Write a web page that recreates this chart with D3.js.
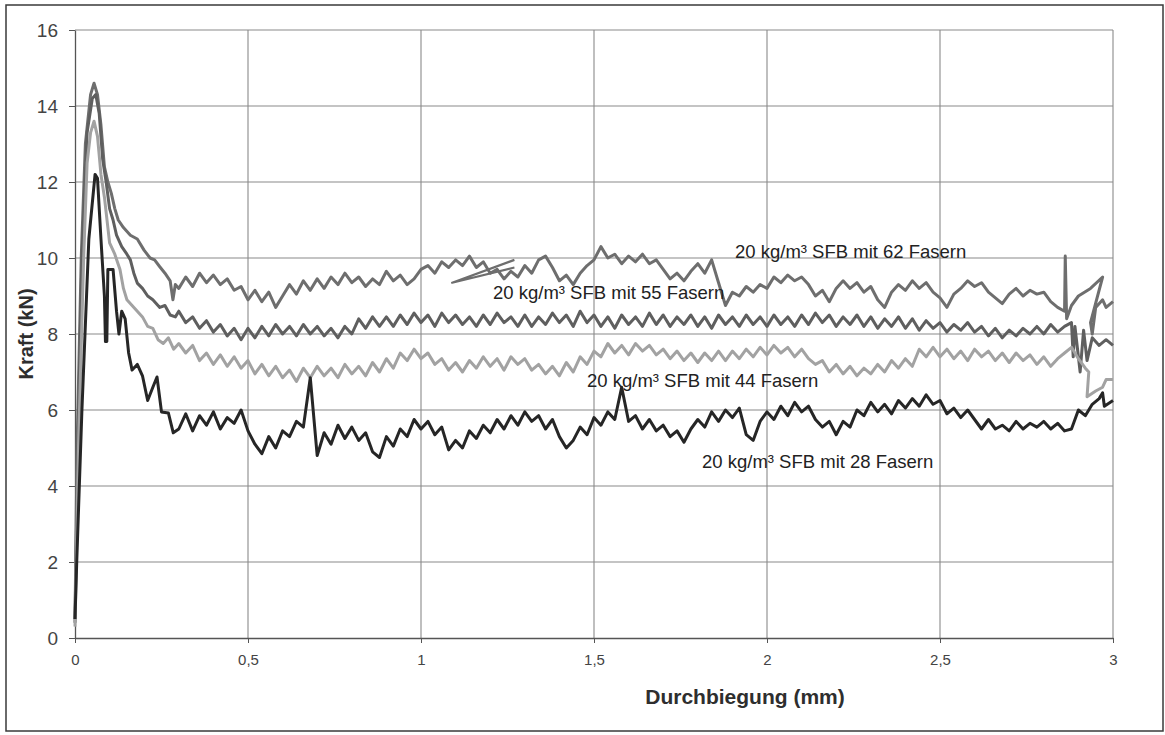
<!DOCTYPE html>
<html><head><meta charset="utf-8">
<script src="https://cdn.jsdelivr.net/npm/d3@7"></script>
<style>
html,body{margin:0;padding:0;background:#fff;}
svg{display:block;font-family:"Liberation Sans",Arial,Helvetica,sans-serif;}
</style></head>
<body>
<svg id="chart" width="1165" height="735"></svg>
<script>
// ---------- data ----------
const xTicks = [0, 0.5, 1, 1.5, 2, 2.5, 3];
const yTicks = [0, 2, 4, 6, 8, 10, 12, 14, 16];
const xTitle = "Durchbiegung (mm)";
const yTitle = "Kraft (kN)";
const seriesNames = ["20 kg/m³ SFB mit 62 Fasern", "20 kg/m³ SFB mit 55 Fasern",
                     "20 kg/m³ SFB mit 44 Fasern", "20 kg/m³ SFB mit 28 Fasern"];

// common sampling positions of the deflection (mm) for the post-peak plateau
const deflection = [
 0.30,0.32,0.34,0.36,0.38,0.40,0.42,0.44,0.46,0.48,
 0.50,0.52,0.54,0.56,0.58,0.60,0.62,0.64,0.66,0.68,
 0.70,0.72,0.74,0.76,0.78,0.80,0.82,0.84,0.86,0.88,
 0.90,0.92,0.94,0.96,0.98,1.00,1.02,1.04,1.06,1.08,
 1.10,1.12,1.14,1.16,1.18,1.20,1.22,1.24,1.26,1.28,
 1.30,1.32,1.34,1.36,1.38,1.40,1.42,1.44,1.46,1.48,
 1.50,1.52,1.54,1.56,1.58,1.60,1.62,1.64,1.66,1.68,
 1.70,1.72,1.74,1.76,1.78,1.80,1.82,1.84,1.86,1.88,
 1.90,1.92,1.94,1.96,1.98,2.00,2.02,2.04,2.06,2.08,
 2.10,2.12,2.14,2.16,2.18,2.20,2.22,2.24,2.26,2.28,
 2.30,2.32,2.34,2.36,2.38,2.40,2.42,2.44,2.46,2.48,
 2.50,2.52,2.54,2.56,2.58,2.60,2.62,2.64,2.66,2.68,
 2.70,2.72,2.74,2.76,2.78,2.80,2.82,2.84,2.86];

// ---- 62 Fasern ----
const head62 = [[0,0.5],[0.006,5],[0.018,10],[0.03,13.0],[0.045,14.3],[0.055,14.6],[0.065,14.3],[0.075,13.5],
 [0.085,12.4],[0.095,12.0],[0.105,11.7],[0.115,11.3],[0.125,11.0],[0.14,10.8],[0.16,10.6],[0.18,10.5],
 [0.2,10.2],[0.217,10.0],[0.23,9.95],[0.245,9.77],[0.26,9.6],[0.275,9.4],[0.283,8.9],[0.29,9.3]];
const force62 = [
 9.2,9.5,9.25,9.6,9.35,9.55,9.3,9.45,9.15,9.25,
 8.9,9.15,8.85,9.1,8.7,9.0,9.3,9.05,9.4,9.15,
 9.45,9.2,9.5,9.3,9.6,9.35,9.5,9.25,9.45,9.3,
 9.65,9.4,9.55,9.3,9.45,9.7,9.8,9.6,9.9,9.75,
 9.95,9.8,10.05,9.75,9.9,9.6,9.7,9.45,9.65,9.5,
 9.8,9.6,9.95,10.05,9.75,9.4,9.55,9.3,9.6,9.8,
 9.95,10.3,10.0,10.1,9.85,10.05,9.9,10.1,9.85,9.95,
 9.7,9.45,9.6,9.4,9.65,9.85,9.6,9.95,9.35,8.75,
 9.1,9.0,9.25,9.1,9.3,9.2,9.5,9.35,9.55,9.4,
 9.5,9.3,9.0,9.15,8.85,9.2,9.4,9.2,9.35,9.1,
 9.25,8.9,8.7,9.1,9.3,9.15,9.4,9.2,9.35,9.1,
 8.95,8.7,9.05,9.2,9.4,9.25,9.35,9.1,8.95,8.8,
 9.05,9.2,9.0,9.15,9.05,9.1,8.85,8.7,8.6];
const tail62 = [[2.862,10.05],[2.866,8.4],[2.88,8.75],[2.90,9.0],[2.935,9.2],[2.97,9.5],[2.935,8.3],
 [2.94,8.0],[2.95,8.7],[2.97,8.9],[2.98,8.7],[3.0,8.85]];
const loop62 = [[1.27,9.75],[1.09,9.35],[1.27,9.95]];

// ---- 55 Fasern ----
const head55 = [[0,0.4],[0.008,5],[0.02,10],[0.035,13.3],[0.05,14.2],[0.06,14.3],[0.07,13.8],[0.08,12.6],
 [0.09,12.0],[0.10,11.3],[0.11,11.0],[0.12,10.6],[0.135,10.3],[0.15,10.1],[0.16,9.95],[0.17,9.6],
 [0.18,9.34],[0.195,9.2],[0.21,9.0],[0.225,8.9],[0.245,8.7],[0.26,8.75],[0.275,8.5],[0.29,8.45]];
const force55 = [
 8.6,8.3,8.45,8.15,8.35,8.05,8.25,7.95,8.15,7.85,
 8.15,7.9,8.2,7.95,8.25,8.0,8.2,7.95,8.25,8.0,
 8.2,7.95,8.15,7.9,8.2,8.0,8.4,8.15,8.45,8.2,
 8.45,8.2,8.5,8.25,8.55,8.3,8.5,8.2,8.55,8.3,
 8.5,8.25,8.45,8.2,8.5,8.25,8.55,8.3,8.45,8.2,
 8.5,8.2,8.45,8.25,8.55,8.3,8.5,8.2,8.6,8.3,
 8.5,8.2,8.45,8.15,8.5,8.25,8.45,8.2,8.55,8.25,
 8.5,8.2,8.45,8.25,8.5,8.2,8.45,8.15,8.5,8.25,
 8.45,8.2,8.5,8.25,8.45,8.2,8.5,8.25,8.45,8.2,
 8.5,8.25,8.55,8.3,8.5,8.2,8.45,8.25,8.5,8.2,
 8.45,8.15,8.4,8.2,8.45,8.15,8.4,8.1,8.35,8.15,
 8.3,8.05,8.25,8.1,8.3,8.05,8.2,7.95,8.15,7.9,
 8.1,7.95,8.15,8.0,8.2,8.0,8.25,8.05,8.2];
const tail55 = [[2.88,8.3],[2.885,7.4],[2.89,8.2],[2.905,7.0],[2.915,8.1],[2.925,7.3],[2.94,7.9],
 [2.96,7.7],[2.98,7.85],[3.0,7.7]];

// ---- 44 Fasern ----
const head44 = [[0,0.3],[0.01,5],[0.025,10],[0.035,12.5],[0.045,13.3],[0.055,13.6],[0.065,13.2],[0.075,12.2],
 [0.085,11.6],[0.095,10.8],[0.10,10.4],[0.115,10.1],[0.13,9.7],[0.14,9.2],[0.15,8.9],[0.165,8.75],
 [0.18,8.6],[0.195,8.45],[0.21,8.2],[0.225,8.15],[0.24,7.85],[0.255,7.75],[0.27,7.9],[0.285,7.6]];
const force44 = [
 7.75,7.5,7.7,7.3,7.5,7.2,7.45,7.15,7.4,7.1,
 7.3,6.95,7.2,6.9,7.15,6.85,7.05,6.75,7.1,6.85,
 7.15,6.9,7.1,6.85,7.2,6.95,7.15,6.9,7.25,7.0,
 7.35,7.1,7.5,7.3,7.6,7.35,7.5,7.2,7.35,7.05,
 7.25,7.0,7.3,7.1,7.4,7.15,7.35,7.05,7.4,7.2,
 7.35,7.05,7.2,6.95,7.15,6.9,7.25,7.0,7.4,7.2,
 7.55,7.4,7.75,7.5,7.7,7.45,7.75,7.55,7.7,7.45,
 7.6,7.35,7.55,7.3,7.5,7.25,7.5,7.3,7.55,7.3,
 7.55,7.35,7.6,7.4,7.65,7.45,7.7,7.5,7.65,7.4,
 7.6,7.35,7.2,7.3,7.0,7.2,6.95,7.15,6.9,7.1,
 6.95,7.2,7.0,7.3,7.1,7.35,7.15,7.6,7.4,7.65,
 7.4,7.6,7.35,7.55,7.3,7.6,7.4,7.55,7.3,7.5,
 7.25,7.5,7.3,7.45,7.2,7.4,7.15,7.35,7.5];
const tail44 = [[2.88,7.65],[2.90,7.35],[2.92,7.1],[2.93,7.0],[2.925,6.35],[2.95,6.5],[2.97,6.6],
 [2.98,6.8],[3.0,6.8]];

// ---- 28 Fasern ----
const head28 = [[0,0.5],[0.005,2],[0.02,6],[0.04,10.5],[0.058,12.2],[0.065,12.1],[0.075,10.5],[0.085,9.0],
 [0.088,7.8],[0.092,7.8],[0.095,9.7],[0.11,9.7],[0.12,8.6],[0.127,8.0],[0.135,8.6],[0.145,8.4],
 [0.155,7.5],[0.165,7.05],[0.18,7.2],[0.195,6.9],[0.21,6.25],[0.225,6.6],[0.237,6.87],[0.25,5.95],
 [0.27,5.92],[0.284,5.4]];
const force28 = [
 5.5,5.9,5.45,5.85,5.6,5.95,5.5,5.8,5.65,6.0,
 5.45,5.1,4.85,5.3,5.0,5.45,5.3,5.7,5.55,6.85,
 4.8,5.4,5.1,5.6,5.25,5.55,5.2,5.4,4.9,4.75,
 5.3,5.05,5.5,5.3,5.75,5.5,5.7,5.35,5.55,4.95,
 5.2,5.0,5.45,5.25,5.6,5.4,5.75,5.5,5.85,5.6,
 5.95,5.7,5.85,5.5,5.75,5.3,5.0,5.2,5.55,5.35,
 5.8,5.6,5.95,5.75,6.6,5.7,5.85,5.5,5.75,5.45,
 5.6,5.3,5.45,5.15,5.5,5.75,5.55,5.95,5.7,6.0,
 5.8,6.05,5.35,5.2,5.7,5.95,5.75,6.1,5.85,6.2,
 5.95,6.1,5.75,5.55,5.7,5.35,5.7,5.55,6.0,5.85,
 6.2,5.95,6.15,5.9,6.25,6.05,6.3,6.1,6.4,6.15,
 6.25,5.9,6.05,5.8,6.0,5.75,5.5,5.75,5.5,5.6,
 5.45,5.7,5.5,5.65,5.55,5.7,5.5,5.65,5.45];
const tail28 = [[2.88,5.5],[2.90,6.0],[2.92,5.85],[2.94,6.15],[2.96,6.3],[2.97,6.45],[2.975,6.1],[3.0,6.25]];

// ---------- chart ----------
const svg = d3.select("#chart");
const X0 = 75, X1 = 1113, Y0 = 638, Y1 = 30;
const x = d3.scaleLinear().domain([0, 3]).range([X0, X1]);
const y = d3.scaleLinear().domain([0, 16]).range([Y0, Y1]);

// outer frame
svg.append("rect").attr("x", 6).attr("y", 5).attr("width", 1157).attr("height", 726)
  .attr("fill", "#fff").attr("stroke", "#3a3a3a").attr("stroke-width", 1.5);

// grid
const grid = svg.append("g").attr("stroke", "#8a8a8a").attr("stroke-width", 1.1);
grid.selectAll("line.h").data(yTicks.filter(d => d > 0)).join("line")
  .attr("x1", X0).attr("x2", X1).attr("y1", d => y(d)).attr("y2", d => y(d));
grid.selectAll("line.v").data(xTicks.filter(d => d > 0)).join("line")
  .attr("x1", d => x(d)).attr("x2", d => x(d)).attr("y1", Y1).attr("y2", Y0);

// axes
const fmt = d => String(d).replace(".", ",");
const gx = svg.append("g").attr("transform", `translate(0,${Y0})`)
  .call(d3.axisBottom(x).tickValues(xTicks).tickFormat(fmt).tickSize(5).tickPadding(11).tickSizeOuter(0));
gx.select(".domain").attr("stroke", "#555").attr("stroke-width", 1.3);
gx.selectAll(".tick line").attr("stroke", "#555");
gx.selectAll("text").attr("font-size", 15).attr("fill", "#444").attr("font-family", "Liberation Sans, Arial");

const gy = svg.append("g").attr("transform", `translate(${X0},0)`)
  .call(d3.axisLeft(y).tickValues(yTicks).tickSize(6).tickPadding(11).tickSizeOuter(0));
gy.select(".domain").attr("stroke", "#555").attr("stroke-width", 1.3);
gy.selectAll(".tick line").attr("stroke", "#555");
gy.selectAll("text").attr("font-size", 19).attr("fill", "#444").attr("font-family", "Liberation Sans, Arial");

// titles
svg.append("text").attr("x", 745).attr("y", 704).attr("text-anchor", "middle")
  .attr("font-size", 21).attr("font-weight", "bold").attr("fill", "#2e2e2e").text(xTitle);
svg.append("text").attr("transform", "translate(33,334) rotate(-90)").attr("text-anchor", "middle")
  .attr("font-size", 20).attr("font-weight", "bold").attr("fill", "#2e2e2e").text(yTitle);

// series
const line = d3.line().x(d => x(d[0])).y(d => y(d[1]));
const build = (head, force, tail) => head.concat(deflection.map((d, i) => [d, force[i]]), tail);
const series = [
  {pts: build(head62, force62, tail62), color: "#6e6e6e"},
  {pts: build(head55, force55, tail55), color: "#5f5f5f"},
  {pts: build(head44, force44, tail44), color: "#a2a2a2"},
  {pts: build(head28, force28, tail28), color: "#262626"}
];
const gl = svg.append("g").attr("fill", "none").attr("stroke-width", 3).attr("stroke-linejoin", "round");
gl.append("path").attr("d", line(loop62)).attr("stroke", "#6e6e6e").attr("stroke-width", 2.2);
gl.selectAll("path.s").data(series).join("path").attr("class", "s")
  .attr("d", d => line(d.pts)).attr("stroke", d => d.color);

// series labels
const labelPos = [[735, 258], [493, 299], [587, 387], [702, 468]];
svg.selectAll("text.lab").data(seriesNames).join("text").attr("class", "lab")
  .attr("x", (d, i) => labelPos[i][0]).attr("y", (d, i) => labelPos[i][1])
  .attr("font-size", 18.5).attr("fill", "#222").text(d => d);
</script>
</body></html>
